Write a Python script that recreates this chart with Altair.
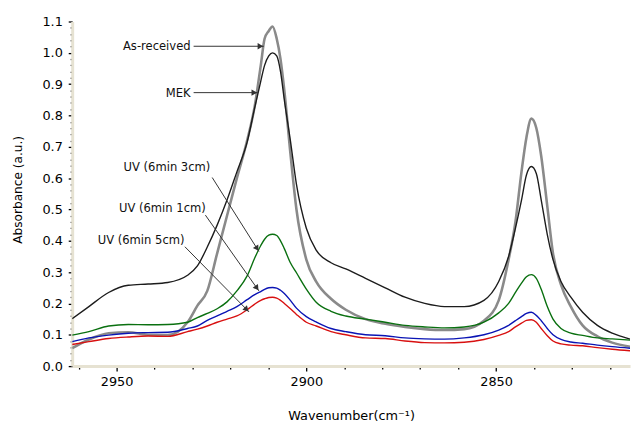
import math
import altair as alt
import pandas as pd

# ---- data ----
wavenumber = [2961.7, 2957.3, 2952.1, 2946.9, 2941.7, 2936.5, 2931.3, 2928.7, 2926.1, 2923.5,
              2920.9, 2918.3, 2915.6, 2913.6, 2912.0, 2911.0, 2909.9, 2908.9, 2907.8, 2906.8,
              2905.8, 2904.2, 2902.6, 2900.0, 2897.4, 2893.5, 2889.6, 2884.4, 2879.2, 2874.0,
              2868.8, 2863.6, 2858.4, 2853.2, 2849.3, 2846.7, 2844.9, 2843.3, 2842.0, 2840.7,
              2839.4, 2838.1, 2836.5, 2835.0, 2832.9, 2830.3, 2827.2, 2823.3, 2819.4, 2814.7]

as_received = [0.057, 0.085, 0.105, 0.108, 0.100, 0.099, 0.140, 0.193, 0.240, 0.360,
               0.480, 0.600, 0.720, 0.830, 0.960, 1.045, 1.070, 1.084, 1.045, 0.980,
               0.880, 0.680, 0.500, 0.340, 0.270, 0.215, 0.180, 0.150, 0.135, 0.125,
               0.118, 0.115, 0.118, 0.145, 0.210, 0.340, 0.460, 0.620, 0.730, 0.790,
               0.760, 0.670, 0.510, 0.360, 0.260, 0.190, 0.130, 0.095, 0.075, 0.062]

mek = [0.151, 0.190, 0.235, 0.258, 0.262, 0.267, 0.290, 0.320, 0.380, 0.450,
       0.530, 0.620, 0.715, 0.825, 0.910, 0.960, 0.990, 1.000, 0.990, 0.940,
       0.850, 0.720, 0.580, 0.440, 0.370, 0.330, 0.310, 0.280, 0.250, 0.220,
       0.200, 0.190, 0.190, 0.210, 0.270, 0.350, 0.440, 0.530, 0.610, 0.637,
       0.615, 0.530, 0.420, 0.340, 0.270, 0.220, 0.172, 0.130, 0.105, 0.086]

uv_3cm = [0.099, 0.110, 0.128, 0.133, 0.132, 0.133, 0.140, 0.155, 0.168, 0.183,
          0.205, 0.240, 0.288, 0.345, 0.385, 0.405, 0.418, 0.421, 0.417, 0.400,
          0.375, 0.330, 0.298, 0.246, 0.204, 0.175, 0.160, 0.150, 0.140, 0.130,
          0.125, 0.122, 0.125, 0.140, 0.170, 0.200, 0.235, 0.265, 0.285, 0.292,
          0.280, 0.245, 0.190, 0.150, 0.120, 0.105, 0.098, 0.090, 0.087, 0.083]

uv_1cm = [0.078, 0.090, 0.099, 0.105, 0.107, 0.108, 0.120, 0.128, 0.146, 0.160,
          0.175, 0.190, 0.212, 0.228, 0.238, 0.245, 0.250, 0.251, 0.249, 0.242,
          0.232, 0.210, 0.185, 0.158, 0.141, 0.120, 0.110, 0.100, 0.097, 0.090,
          0.087, 0.086, 0.090, 0.100, 0.115, 0.130, 0.145, 0.158, 0.168, 0.172,
          0.162, 0.145, 0.120, 0.100, 0.085, 0.077, 0.073, 0.067, 0.062, 0.057]

uv_5cm = [0.069, 0.078, 0.088, 0.093, 0.096, 0.095, 0.110, 0.118, 0.128, 0.140,
          0.150, 0.160, 0.180, 0.198, 0.210, 0.215, 0.219, 0.220, 0.217, 0.210,
          0.200, 0.183, 0.165, 0.140, 0.128, 0.110, 0.100, 0.090, 0.088, 0.080,
          0.075, 0.074, 0.076, 0.085, 0.098, 0.110, 0.125, 0.137, 0.146, 0.148,
          0.140, 0.120, 0.097, 0.080, 0.071, 0.067, 0.065, 0.059, 0.054, 0.049]

series_names = ["As-received", "MEK", "UV (6min 3cm)", "UV (6min 1cm)", "UV (6min 5cm)"]
series_values = [as_received, mek, uv_3cm, uv_1cm, uv_5cm]
series_colors = ["#8a8a8a", "#1c1c1c", "#0a7010", "#0a14b4", "#d81010"]
series_widths = [2.6, 1.4, 1.4, 1.4, 1.4]

x_ticks = list(range(2820, 2961, 10))
y_ticks = [round(i * 0.02, 2) for i in range(56)]

# annotation labels and arrows (data units)
ann_text = ["As-received", "MEK", "UV (6min 3cm)", "UV (6min 1cm)", "UV (6min 5cm)"]
ann_text_x = [2930.5, 2930.5, 2925.3, 2926.5, 2932.1]
ann_text_y = [1.021, 0.873, 0.634, 0.504, 0.403]
arrow_x1 = [2929.7, 2929.7, 2924.8, 2926.6, 2932.0]
arrow_y1 = [1.021, 0.873, 0.602, 0.482, 0.381]
arrow_x2 = [2911.2, 2912.8, 2912.5, 2912.5, 2915.1]
arrow_y2 = [1.021, 0.873, 0.366, 0.240, 0.173]

X_DOMAIN = [2814.7, 2961.7]
Y_DOMAIN = [0, 1.1]
W, H = 565, 349
FONT = "DejaVu Sans"
X_TITLE = "Wavenumber(cm⁻¹)"
Y_TITLE = "Absorbance (a.u.)"

xscale = alt.Scale(domain=X_DOMAIN, reverse=True, nice=False, zero=False)
yscale = alt.Scale(domain=Y_DOMAIN, nice=False, zero=False)

X_MAJOR = "datum.value % 50 == 0"
Y_MAJOR = "abs(round(datum.value * 100)) % 10 == 0"

x_axis = alt.Axis(values=x_ticks, format="d",
                  labelExpr=X_MAJOR + " ? datum.label : ''",
                  grid=False, domainColor="#E6E2D2", domainWidth=3,
                  tickColor="#000000", tickWidth=1.3,
                  tickSize={"condition": {"test": X_MAJOR, "value": 5}, "value": 3},
                  labelFont=FONT, labelFontSize=13, labelColor="#000000", labelPadding=5,
                  titleFont=FONT, titleFontSize=13, titleFontWeight="normal", titleColor="#000000",
                  titleY=50, titleBaseline="middle", titleAlign="center")
y_axis = alt.Axis(values=y_ticks, format=".1f",
                  labelExpr=Y_MAJOR + " ? datum.label : ''",
                  grid=False, domainColor="#E6E2D2", domainWidth=3,
                  tickColor="#000000", tickWidth=1.3,
                  tickSize={"condition": {"test": Y_MAJOR, "value": 4}, "value": 2},
                  labelFont=FONT, labelFontSize=13, labelColor="#000000", labelPadding=6,
                  titleFont=FONT, titleFontSize=12.3, titleFontWeight="normal", titleColor="#000000",
                  titleX=-55, titleY=170, titleBaseline="middle", titleAlign="center")


def xenc(field):
    return alt.X(field, type="quantitative", scale=xscale, axis=x_axis, title=X_TITLE)


def yenc(field):
    return alt.Y(field, type="quantitative", scale=yscale, axis=y_axis, title=Y_TITLE)


layers = []
for name, vals, col, sw in zip(series_names, series_values, series_colors, series_widths):
    df = pd.DataFrame({"wn": wavenumber, "a": vals})
    layers.append(
        alt.Chart(df).mark_line(color=col, strokeWidth=sw, interpolate="monotone", clip=True).encode(
            x=xenc("wn"), y=yenc("a"))
    )

# arrows
pxw = W / (X_DOMAIN[1] - X_DOMAIN[0])
pya = H / (Y_DOMAIN[1] - Y_DOMAIN[0])
angles, hx, hy = [], [], []
for x1, y1, x2, y2 in zip(arrow_x1, arrow_y1, arrow_x2, arrow_y2):
    dx = (x1 - x2) * pxw
    dy = (y1 - y2) * pya
    L = math.hypot(dx, dy)
    ux, uy = dx / L, dy / L
    angles.append(math.degrees(math.atan2(dy, dx)) % 360)
    hx.append(x2 + 3.5 * ux / pxw)
    hy.append(y2 + 3.5 * uy / pya)

arr = pd.DataFrame({"wn": arrow_x1, "a": arrow_y1, "x2": arrow_x2, "y2": arrow_y2})
heads_df = pd.DataFrame({"wn": hx, "a": hy, "ang": angles})
ann = pd.DataFrame({"t": ann_text, "wn": ann_text_x, "a": ann_text_y})

rules = alt.Chart(arr).mark_rule(color="#333333", strokeWidth=1).encode(
    x=xenc("wn"), y=yenc("a"), x2="x2:Q", y2="y2:Q")
heads = alt.Chart(heads_df).mark_point(shape="triangle-right", filled=True, size=42,
                                        color="#333333", opacity=1).encode(
    x=xenc("wn"), y=yenc("a"), angle=alt.Angle("ang:Q", scale=None))
texts = alt.Chart(ann).mark_text(align="right", baseline="middle", font=FONT,
                                  fontSize=11.7, color="#111111").encode(
    x=xenc("wn"), y=yenc("a"), text="t:N")

chart = alt.layer(*layers, rules, heads, texts).properties(
    width=W, height=H,
    autosize=alt.AutoSizeParams(type="none"),
    padding={"left": 65, "top": 11, "right": 3, "bottom": 60},
    background="white",
).configure_view(stroke=None)

chart.save("out.html", embed_options={"renderer": "svg", "actions": False})
